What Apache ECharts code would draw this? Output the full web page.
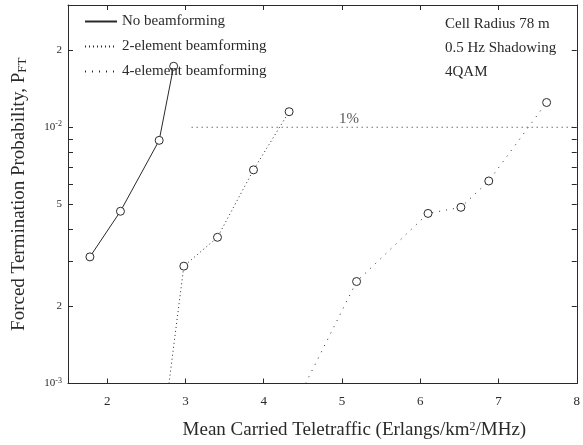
<!DOCTYPE html>
<html>
<head>
<meta charset="utf-8">
<script src="https://cdn.jsdelivr.net/npm/echarts@6/dist/echarts.min.js"></script>
<style>html,body{margin:0;padding:0;background:#fff}#c{width:583px;height:445px}</style>
</head>
<body>
<div id="c"></div>
<script>
// ---- data ----
const seriesNames = ['No beamforming', '2-element beamforming', '4-element beamforming'];
const noBfX = [1.78, 2.17, 2.665, 2.85];
const noBfY = [0.00312, 0.00470, 0.00889, 0.0173];
const bf2X = [2.79, 2.98, 3.41, 3.87, 4.325];
const bf2Y = [0.0010, 0.00287, 0.00372, 0.00682, 0.0115];
const bf4X = [4.535, 5.187, 6.10, 6.52, 6.876, 7.615];
const bf4Y = [0.0010, 0.00250, 0.00461, 0.00487, 0.00617, 0.01249];
const refLineX = [3.08, 8];
const refLineY = [0.01, 0.01];
const refLabel = '1%';
const refLabelX = 5.09;
const xTicks = [2, 3, 4, 5, 6, 7, 8];
const yLabelTicks = [0.001, 0.002, 0.005, 0.01, 0.02];
const yMinorTicks = [0.001,0.002,0.003,0.004,0.005,0.006,0.007,0.008,0.009,0.01,0.02,0.03];
const annotation = ['Cell Radius 78 m', '0.5 Hz Shadowing', '4QAM'];

const FONT = '"Liberation Serif", "DejaVu Serif", serif';
const INK = '#2a2a2a';

function pts(xs, ys, noSymbolFirst) {
  return xs.map((x, i) => {
    const d = { value: [x, ys[i]] };
    if (noSymbolFirst && i === 0) d.symbol = 'none';
    return d;
  });
}

function yLabelFmt(v) {
  if (Math.abs(v - 0.001) < 1e-9) return '{b|10}{s|-3}';
  if (Math.abs(v - 0.01) < 1e-9) return '{b|10}{s|-2}';
  if (Math.abs(v - 0.002) < 1e-9 || Math.abs(v - 0.02) < 1e-9) return '{b|2}';
  if (Math.abs(v - 0.005) < 1e-9) return '{b|5}';
  return '';
}

const chart = echarts.init(document.getElementById('c'), null, { renderer: 'canvas' });
const common = { symbol: 'circle', symbolSize: 8, itemStyle: { color: '#fff', borderColor: INK, borderWidth: 1 }, animation: false, z: 3 };

chart.setOption({
  backgroundColor: '#fff',
  animation: false,
  grid: { left: 68, right: 5, top: 5, bottom: 57, containLabel: false },
  legend: {
    data: seriesNames,
    orient: 'vertical', left: 84, top: 14, padding: 0,
    itemWidth: 32, itemHeight: 14, itemGap: 10,
    itemStyle: { opacity: 0 },
    textStyle: { fontFamily: FONT, fontSize: 15, color: INK },
    selectedMode: false
  },
  xAxis: [{
    type: 'value', min: 1.5, max: 8, position: 'bottom',
    axisLine: { lineStyle: { color: INK, width: 1 } },
    axisTick: { inside: true, length: 5, customValues: xTicks, lineStyle: { color: INK } },
    axisLabel: { customValues: xTicks, fontFamily: FONT, fontSize: 13, color: INK, margin: 12 },
    splitLine: { show: false },
    name: 'Mean Carried Teletraffic (Erlangs/km{sup|2}/MHz)',
    nameLocation: 'middle', nameGap: 37,
    nameTextStyle: { fontFamily: FONT, fontSize: 19, color: INK, padding: [0, 0, 0, 64],
      rich: { sup: { fontFamily: FONT, fontSize: 12, color: INK, verticalAlign: 'top', padding: [0, 0, 8, 0] } } }
  }, {
    type: 'value', min: 1.5, max: 8, position: 'top',
    axisLine: { lineStyle: { color: INK, width: 1 } },
    axisTick: { inside: true, length: 5, customValues: xTicks, lineStyle: { color: INK } },
    axisLabel: { show: false }, splitLine: { show: false }
  }],
  yAxis: [{
    type: 'log', logBase: 10, min: 0.001, max: 0.03, position: 'left',
    axisLine: { show: true, lineStyle: { color: INK, width: 1 } },
    axisTick: { show: true, inside: true, length: 5, customValues: yMinorTicks, lineStyle: { color: INK } },
    minorTick: { show: false },
    axisLabel: { customValues: yLabelTicks, formatter: yLabelFmt, margin: 6, color: INK,
      rich: { b: { fontFamily: FONT, fontSize: 11, color: INK }, s: { fontFamily: FONT, fontSize: 8, color: INK, verticalAlign: 'top', padding: [0, 0, 6, 0] } } },
    splitLine: { show: false },
    name: 'Forced Termination Probability, P{sub|FT}',
    nameLocation: 'middle', nameGap: 39, nameRotate: 90,
    nameTextStyle: { fontFamily: FONT, fontSize: 19, color: INK,
      rich: { sub: { fontFamily: FONT, fontSize: 13, color: INK, verticalAlign: 'bottom', padding: [6, 0, 0, 0] } } }
  }, {
    type: 'log', logBase: 10, min: 0.001, max: 0.03, position: 'right',
    axisLine: { show: true, lineStyle: { color: INK, width: 1 } },
    axisTick: { show: true, inside: true, length: 5, customValues: yMinorTicks, lineStyle: { color: INK } },
    axisLabel: { show: false }, splitLine: { show: false }
  }],
  series: [
    Object.assign({}, common, { name: seriesNames[0], type: 'line', data: pts(noBfX, noBfY, false),
      lineStyle: { color: INK, width: 1, type: 'solid' } }),
    Object.assign({}, common, { name: seriesNames[1], type: 'line', data: pts(bf2X, bf2Y, true),
      lineStyle: { color: INK, width: 1, type: [1, 3] } }),
    Object.assign({}, common, { name: seriesNames[2], type: 'line', data: pts(bf4X, bf4Y, true),
      lineStyle: { color: INK, width: 1, type: [1, 6] } }),
    { name: 'ref', type: 'line', data: refLineX.map((x, i) => [x, refLineY[i]]), symbol: 'none', silent: true,
      lineStyle: { color: INK, width: 1, type: [1, 4] }, z: 2 },
    { name: 'refLabel', type: 'scatter', data: [[refLabelX, refLineY[0]]], symbolSize: 0, silent: true,
      label: { show: true, formatter: refLabel, position: 'top', distance: 1, fontFamily: FONT, fontSize: 15, color: INK } }
  ],
  graphic: [{
    type: 'text', left: 445, top: 12, silent: true,
    style: { text: annotation.join('\n'), font: '15px ' + FONT, fill: INK, lineHeight: 24 }
  }]
});
</script>
</body>
</html>
